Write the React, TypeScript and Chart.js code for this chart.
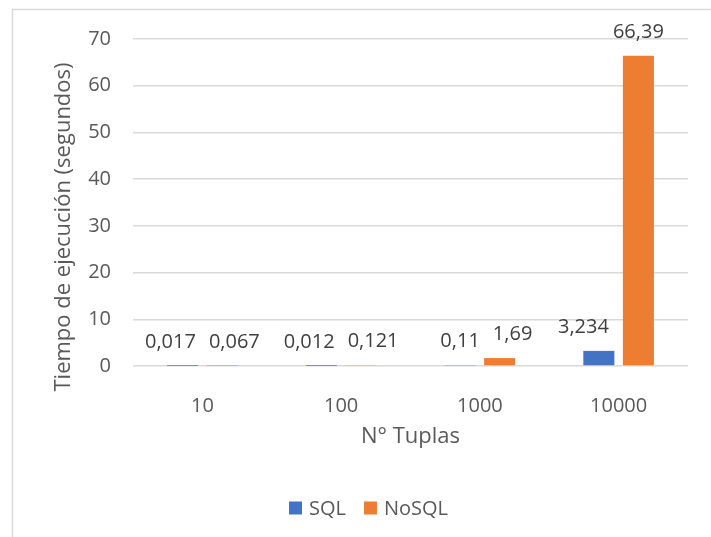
import { useEffect, useRef } from "react";
import { Chart, registerables } from "chart.js";

Chart.register(...registerables);

const categories = ["10", "100", "1000", "10000"];
const sqlValues = [0.017, 0.012, 0.11, 3.234];
const nosqlValues = [0.067, 0.121, 1.69, 66.39];
const seriesNames = ["SQL", "NoSQL"];
const seriesColors = ["#4472C4", "#ED7D31"];
const yMin = 0;
const yMax = 70;
const yStep = 10;
const yTitle = "Tiempo de ejecución (segundos)";
const xTitle = "N° Tuplas";

const FONT = '"Open Sans", "DejaVu Sans", sans-serif';
const AXIS_COLOR = "#595959";
const LABEL_COLOR = "#404040";
const GRID_COLOR = "#d9d9d9";

const fmt = (v: number) => String(v).replace(".", ",");

const overlay = {
  id: "overlay",
  beforeDraw(chart: any) {
    const ctx = chart.ctx;
    ctx.save();
    ctx.fillStyle = "#ffffff";
    ctx.fillRect(0, 0, chart.width, chart.height);
    ctx.strokeStyle = GRID_COLOR;
    ctx.lineWidth = 1.5;
    ctx.beginPath();
    ctx.moveTo(12.5, chart.height);
    ctx.lineTo(12.5, 9.5);
    ctx.lineTo(chart.width, 9.5);
    ctx.stroke();
    ctx.restore();
  },
  afterDatasetsDraw(chart: any) {
    const ctx = chart.ctx;
    ctx.save();
    ctx.font = `20px ${FONT}`;
    ctx.fillStyle = LABEL_COLOR;
    ctx.textAlign = "center";
    ctx.textBaseline = "alphabetic";
    const m0 = chart.getDatasetMeta(0).data;
    const m1 = chart.getDatasetMeta(1).data;
    const gapBar = 14;
    const gapLab = 13;
    const textH = 15;
    for (let i = 0; i < categories.length; i++) {
      const b0 = m0[i];
      const b1 = m1[i];
      const t0 = fmt(sqlValues[i]);
      const t1 = fmt(nosqlValues[i]);
      const w0 = ctx.measureText(t0).width;
      const w1 = ctx.measureText(t1).width;
      let cx0 = b0.x;
      let cx1 = b1.x;
      const base0 = b0.y - 18;
      const base1 = b1.y - 18;
      if (base0 > b1.y) {
        const left1 = b1.x - b1.width / 2;
        if (cx0 + w0 / 2 + gapBar > left1) cx0 = left1 - gapBar - w0 / 2;
      }
      if (base1 > b0.y) {
        const right0 = b0.x + b0.width / 2;
        if (cx1 - w1 / 2 - gapBar < right0) cx1 = right0 + gapBar + w1 / 2;
      }
      if (Math.abs(base0 - base1) < textH) {
        const need = (w0 + w1) / 2 + gapLab;
        const d = need - (cx1 - cx0);
        if (d > 0) {
          if (Math.abs(b0.y - b1.y) < 3) {
            cx0 -= d / 2;
            cx1 += d / 2;
          } else if (b1.y < b0.y) {
            cx1 += d;
          } else {
            cx0 -= d;
          }
        }
      }
      ctx.fillText(t0, cx0, base0);
      ctx.fillText(t1, cx1, base1);
    }
    ctx.restore();
  },
  afterDraw(chart: any) {
    const ctx = chart.ctx;
    const area = chart.chartArea;
    ctx.save();
    ctx.font = `22px ${FONT}`;
    ctx.fillStyle = AXIS_COLOR;
    ctx.textAlign = "center";
    ctx.textBaseline = "middle";
    ctx.save();
    ctx.translate(64, 227);
    ctx.rotate(-Math.PI / 2);
    ctx.fillText(yTitle, 0, 0);
    ctx.restore();
    ctx.fillText(xTitle, (area.left + area.right) / 2, 437);
    ctx.font = `20px ${FONT}`;
    const sq = 13;
    const gapTxt = 7;
    const gapItem = 18;
    const widths = seriesNames.map((n) => ctx.measureText(n).width);
    const total = widths.reduce((a, w) => a + sq + gapTxt + w, 0) + gapItem * (seriesNames.length - 1);
    let x = 368.5 - total / 2;
    const ly = 508;
    ctx.textAlign = "left";
    seriesNames.forEach((n, k) => {
      ctx.fillStyle = seriesColors[k];
      ctx.fillRect(x, ly - sq / 2, sq, sq);
      x += sq + gapTxt;
      ctx.fillStyle = AXIS_COLOR;
      ctx.fillText(n, x, ly + 1);
      x += widths[k] + gapItem;
    });
    ctx.restore();
  },
};

export default function App() {
  const ref = useRef<HTMLCanvasElement | null>(null);
  useEffect(() => {
    if (!ref.current) return;
    const chart = new Chart(ref.current, {
      type: "bar",
      data: {
        labels: categories,
        datasets: [
          {
            label: seriesNames[0],
            data: sqlValues,
            backgroundColor: seriesColors[0],
            categoryPercentage: 0.57,
            barPercentage: 0.785,
          },
          {
            label: seriesNames[1],
            data: nosqlValues,
            backgroundColor: seriesColors[1],
            categoryPercentage: 0.57,
            barPercentage: 0.785,
          },
        ],
      },
      options: {
        responsive: false,
        animation: false,
        layout: { padding: { left: 0, right: 23, top: 39, bottom: 0 } },
        plugins: { legend: { display: false }, tooltip: { enabled: false } },
        scales: {
          x: {
            grid: { display: false },
            border: { display: false },
            ticks: { font: { size: 20, family: FONT }, color: AXIS_COLOR, padding: 20 },
            afterFit: (s: any) => {
              s.height = 171;
            },
          },
          y: {
            min: yMin,
            max: yMax,
            ticks: { stepSize: yStep, font: { size: 20, family: FONT }, color: AXIS_COLOR, padding: 22 },
            grid: { color: GRID_COLOR, lineWidth: 1.5, drawTicks: false },
            border: { display: false },
            afterFit: (s: any) => {
              s.width = 133;
            },
          },
        },
      },
      plugins: [overlay],
    });
    return () => chart.destroy();
  }, []);
  return (
    <canvas
      ref={ref}
      width={711}
      height={537}
      style={{ position: "fixed", left: 0, top: 0, display: "block" }}
    />
  );
}
